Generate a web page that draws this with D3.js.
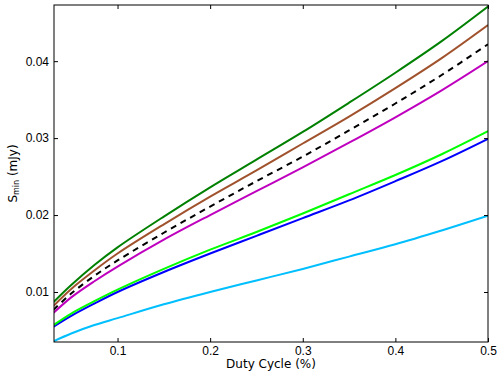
<html>
<head>
<meta charset="UTF-8">
<script src="https://d3js.org/d3.v7.min.js"></script>
<style>
  body { margin: 0; background: #fff; }
  svg { font-family: "DejaVu Sans", sans-serif; }
  .tick text { font-size: 12px; fill: #000; }
  .lbl { font-size: 12px; fill: #000; }
</style>
</head>
<body>
<svg width="503" height="378"></svg>
<script>
// duty cycle positions (fraction)
var duty = [0.031, 0.05, 0.075, 0.1, 0.15, 0.2, 0.25, 0.3, 0.35, 0.4, 0.45, 0.5];

// S_min values (mJy)
var sGreen   = [0.0087, 0.0109, 0.0135, 0.0158, 0.0198, 0.0236, 0.0272, 0.0308, 0.0346, 0.0385, 0.0426, 0.0471];
var sBrown   = [0.0082, 0.0104, 0.0128, 0.0150, 0.0188, 0.0224, 0.0258, 0.0293, 0.0328, 0.0365, 0.0404, 0.0447];
var sBlack   = [0.0077, 0.0098, 0.0121, 0.0141, 0.0177, 0.0211, 0.0244, 0.0276, 0.0310, 0.0345, 0.0382, 0.0422];
var sMagenta = [0.0073, 0.0093, 0.0114, 0.0133, 0.0168, 0.0200, 0.0231, 0.0262, 0.0294, 0.0327, 0.0362, 0.0400];
var sLime    = [0.0057, 0.0072, 0.0088, 0.0103, 0.0130, 0.0155, 0.0178, 0.0202, 0.0227, 0.0252, 0.0279, 0.0309];
var sBlue    = [0.0055, 0.0069, 0.0085, 0.0100, 0.0126, 0.0150, 0.0173, 0.0196, 0.0219, 0.0244, 0.0270, 0.0299];
var sCyan    = [0.0036, 0.0046, 0.0057, 0.0066, 0.0084, 0.0100, 0.0115, 0.0130, 0.0146, 0.0162, 0.0180, 0.0199];

var xTicks = [0.1, 0.2, 0.3, 0.4, 0.5];
var yTicks = [0.01, 0.02, 0.03, 0.04];

var series = [
  {vals: sGreen,   color: "#008000", dash: null},
  {vals: sBrown,   color: "#a0522d", dash: null},
  {vals: sBlack,   color: "#000000", dash: "6,5"},
  {vals: sMagenta, color: "#bf00bf", dash: null},
  {vals: sLime,    color: "#00ff00", dash: null},
  {vals: sBlue,    color: "#0000ff", dash: null},
  {vals: sCyan,    color: "#00bfff", dash: null}
];

var L = 54, R = 488, T = 5, B = 342;
var svg = d3.select("svg");

var x = d3.scaleLinear().domain([0.0314, 0.5]).range([L, R]);
var y = d3.scaleLinear().domain([0.0035, 0.0473]).range([B, T]);

svg.append("clipPath").attr("id", "clip")
  .append("rect").attr("x", L).attr("y", T).attr("width", R - L).attr("height", B - T);

var line = d3.line()
  .x(function(d) { return x(d[0]); })
  .y(function(d) { return y(d[1]); })
  .curve(d3.curveCatmullRom.alpha(0.5));

// bottom series first
series.slice().reverse().forEach(function(s) {
  svg.append("path")
    .attr("clip-path", "url(#clip)")
    .attr("d", line(duty.map(function(v, i) { return [v, s.vals[i]]; })))
    .attr("fill", "none")
    .attr("stroke", s.color)
    .attr("stroke-width", 2)
    .attr("stroke-dasharray", s.dash);
});

// axes, ticks pointing inward like old matplotlib
var xb = svg.append("g").attr("transform", "translate(0," + B + ")")
  .call(d3.axisBottom(x).tickValues(xTicks).tickSizeInner(-4).tickSizeOuter(0).tickPadding(4).tickFormat(d3.format(".1f")));
var xt = svg.append("g").attr("transform", "translate(0," + T + ")")
  .call(d3.axisTop(x).tickValues(xTicks).tickSizeInner(-4).tickSizeOuter(0).tickFormat(""));
var yl = svg.append("g").attr("transform", "translate(" + L + ",0)")
  .call(d3.axisLeft(y).tickValues(yTicks).tickSizeInner(-4).tickSizeOuter(0).tickPadding(5).tickFormat(d3.format(".2f")));
var yr = svg.append("g").attr("transform", "translate(" + R + ",0)")
  .call(d3.axisRight(y).tickValues(yTicks).tickSizeInner(-4).tickSizeOuter(0).tickFormat(""));

[xb, xt, yl, yr].forEach(function(g) {
  g.select(".domain").remove();
  g.selectAll(".tick line").attr("stroke", "#000");
});

svg.append("rect")
  .attr("x", L).attr("y", T).attr("width", R - L).attr("height", B - T)
  .attr("fill", "none").attr("stroke", "#000").attr("stroke-width", 1);

svg.append("text").attr("class", "lbl")
  .attr("x", (L + R) / 2).attr("y", 368)
  .attr("text-anchor", "middle")
  .text("Duty Cycle (%)");

var yt = svg.append("text").attr("class", "lbl")
  .attr("transform", "translate(17," + ((T + B) / 2) + ") rotate(-90)")
  .attr("text-anchor", "middle");
yt.append("tspan").text("S");
yt.append("tspan").attr("font-size", "8px").attr("dy", 2).text("min");
yt.append("tspan").attr("dy", -2).text(" (mJy)");
</script>
</body>
</html>
